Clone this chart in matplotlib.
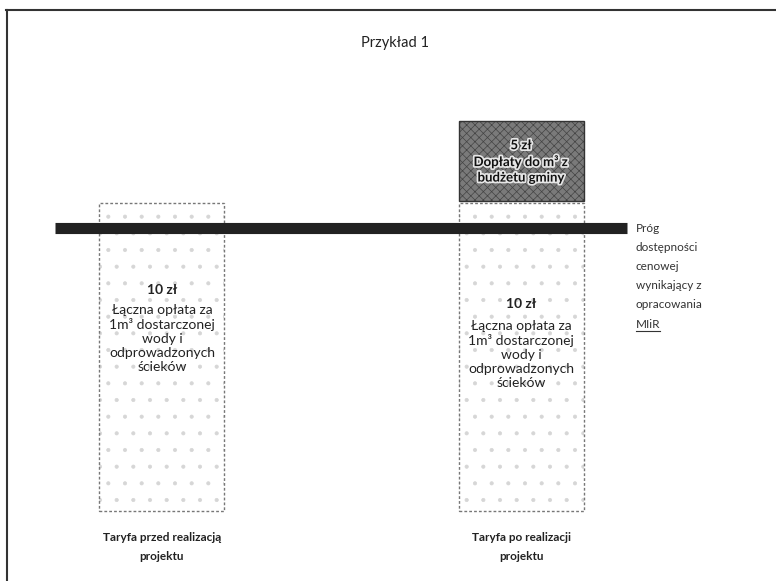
import matplotlib
matplotlib.use("Agg")
import matplotlib.pyplot as plt
import matplotlib.patheffects as pe
from matplotlib.lines import Line2D

plt.rcParams['font.family'] = ['Lato', 'DejaVu Sans']
plt.rcParams['hatch.linewidth'] = 0.5

# data
categories = ["Taryfa przed realizacją\nprojektu", "Taryfa po realizacji\nprojektu"]
tariff = [10, 10]            # opłata za 1 m3
subsidy = [0, 2.6]           # dopłata z budżetu gminy (as drawn)
threshold = 9.2              # próg dostępności cenowej
tariff_label = "Łączna opłata za\n1m³ dostarczonej\nwody i\nodprowadzonych\nścieków"
tariff_value = "10 zł"
subsidy_label = "5 zł\nDopłaty do m³ z\nbudżetu gminy"
threshold_label = ["Próg", "dostępności", "cenowej", "wynikający z", "opracowania", "MIiR"]

fig = plt.figure(figsize=(7.76, 5.81), dpi=100)
ax = fig.add_axes([0, 0, 1, 1])
ax.set_xlim(-0.451, 1.710)
ax.set_ylim(-2.27, 16.59)
ax.axis('off')

x = [0, 1]
w = 0.348

# light speckled bars
ax.bar(x, tariff, width=w, color='white', hatch='.', edgecolor='#d6d6d6', linewidth=0)
ax.bar(x, tariff, width=w, fill=False, edgecolor='#777777', linewidth=1.0,
       linestyle=(0, (2, 1.5)))

# dark top block (only where subsidy > 0)
for xi, base, top in zip(x, tariff, subsidy):
    if top > 0:
        ax.bar(xi, top, bottom=base + 0.05, width=w, color='#7a7a7a', hatch='xxxx',
               edgecolor='#444444', linewidth=0)
        ax.bar(xi, top, bottom=base + 0.05, width=w, fill=False, edgecolor='#333333',
               linewidth=1.0)
        ax.text(xi, base + 0.05 + top / 2, subsidy_label, ha='center', va='center',
                fontsize=9.5, fontweight='bold', color='#111111', linespacing=1.35,
                path_effects=[pe.withStroke(linewidth=2.5, foreground='#e6e6e6')])

# text in the light bars
value_y = [7.18, 6.72]
label_y = [5.6, 5.08]
for xi, vy, ly in zip(x, value_y, label_y):
    ax.text(xi, vy, tariff_value, ha='center', va='center', fontsize=10,
            fontweight='bold', color='#222222')
    ax.text(xi, ly, tariff_label, ha='center', va='center', fontsize=10,
            color='#222222', linespacing=1.2)

# threshold line
ax.hlines(threshold, -0.298, 1.295, color='#222222', linewidth=8)

# threshold description
for i, line in enumerate(threshold_label):
    t = ax.text(1.320, 9.17 - i * 0.62, line, ha='left', va='center',
                fontsize=8.5, color='#333333')
fig.canvas.draw()
bb = t.get_window_extent()
fig.add_artist(Line2D([bb.x0 / fig.bbox.width, bb.x1 / fig.bbox.width],
                     [(bb.y0 - 1) / fig.bbox.height] * 2, color='#333333', linewidth=0.8))

# category labels
for xi, cat in zip(x, categories):
    ax.text(xi, -1.17, cat, ha='center', va='center', fontsize=8.5,
            fontweight='bold', color='#222222', linespacing=1.9)

fig.text(395 / 776, 1 - 43 / 581, "Przykład 1", ha='center', va='center',
         fontsize=10.5, color='#222222')

# frame of the scanned figure
fig.add_artist(Line2D([6 / 776, 1], [1 - 10 / 581] * 2, color='#333333', linewidth=1.5))
fig.add_artist(Line2D([7 / 776] * 2, [0, 1 - 10 / 581], color='#333333', linewidth=1.5))

fig.savefig("out.png", dpi=100)
